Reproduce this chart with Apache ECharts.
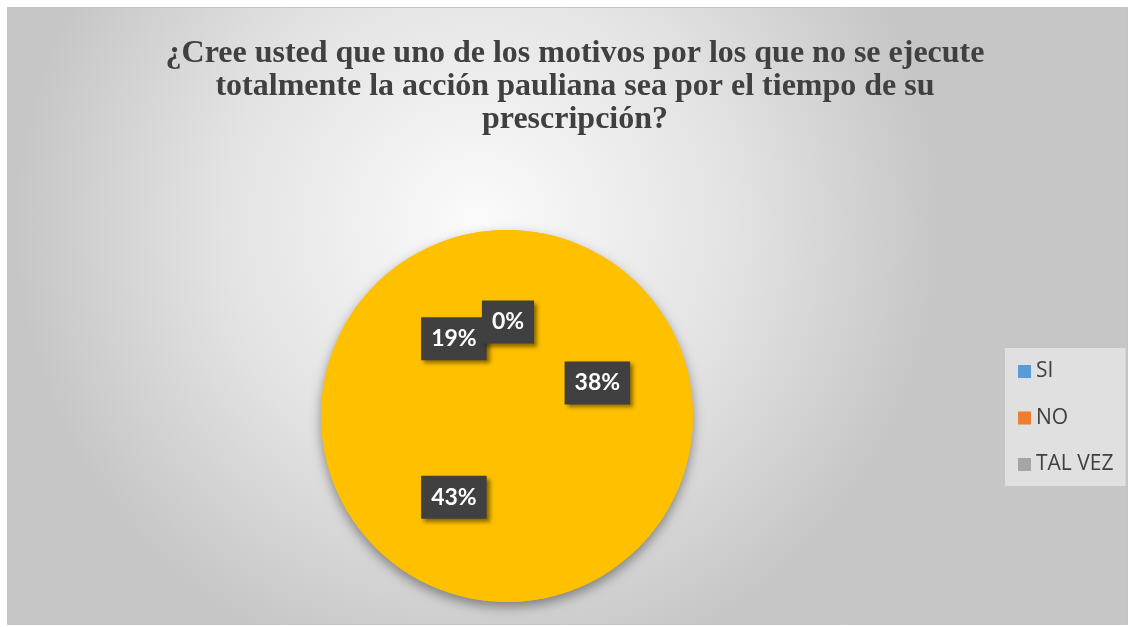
<!DOCTYPE html>
<html><head><meta charset="utf-8">
<script src="https://cdn.jsdelivr.net/npm/echarts@6/dist/echarts.min.js"></script>
<style>html,body{margin:0;padding:0;background:#fff}#c{width:1134px;height:627px}</style>
</head><body><div id="c"></div>
<script>
const titleLines = ['¿Cree usted que uno de los motivos por los que no se ejecute', 'totalmente la acción pauliana sea por el tiempo de su', 'prescripción?'];
const categories = ['SI', 'NO', 'TAL VEZ', ''];
const counts = [8, 9, 4, 0];
const legendColors = ['#5B9BD5', '#ED7D31', '#A5A5A5'];
const sliceColor = '#FFC000';

const chart = echarts.init(document.getElementById('c'), null, {renderer: 'canvas'});
chart.setOption({
  animation: false,
  graphic: [
    {type: 'rect', z: -10, shape: {x: 7.5, y: 7.5, width: 1120, height: 617},
     style: {fill: {type: 'radial', x: 0.42, y: 0.35, r: 0.75, colorStops: [
       {offset: 0, color: '#fbfbfb'}, {offset: 0.55, color: '#e3e3e3'}, {offset: 1, color: '#c6c6c6'}]},
       stroke: '#c4c4c4', lineWidth: 1}},
    {type: 'text', z: 5, style: {text: titleLines.join('\n'), x: 575, y: 37,
      font: 'bold 32px "Liberation Serif"', fill: '#404040', align: 'center', lineHeight: 33}}
  ],
  legend: {
    orient: 'vertical', left: 1005, top: 348,
    padding: [13, 12, 11, 13], itemGap: 25.5,
    itemWidth: 13, itemHeight: 13, icon: 'rect',
    backgroundColor: '#e0e0e0',
    textStyle: {fontFamily: 'Open Sans', fontSize: 21, color: '#404040', lineHeight: 20},
    data: categories.slice(0, 3).map((n, i) => ({name: n, itemStyle: {color: legendColors[i]}}))
  },
  series: [{
    type: 'pie', center: [507, 416], radius: 186, silent: true, z: 1,
    itemStyle: {color: sliceColor, shadowColor: 'rgba(0,0,0,0.4)', shadowBlur: 12, shadowOffsetY: 5},
    label: {show: false}, labelLine: {show: false},
    data: [{name: 'base', value: 1}]
  }, {
    type: 'pie', center: [507, 416], radius: 186, startAngle: 90, clockwise: true, z: 2,
    percentPrecision: 0, avoidLabelOverlap: false, minShowLabelAngle: -1,
    labelLayout: {hideOverlap: false},
    itemStyle: {color: sliceColor, borderWidth: 0},
    emphasis: {disabled: true},
    label: {position: 'inside', formatter: '{d}%', color: '#fff', fontFamily: 'Lato', fontWeight: 'bold', fontSize: 23,
      backgroundColor: '#404040', padding: [10, 10, 10, 10], offset: [1, 2],
      shadowColor: 'rgba(0,0,0,0.45)', shadowBlur: 4, shadowOffsetX: 3, shadowOffsetY: 3},
    labelLine: {show: false},
    data: categories.map((n, i) => ({name: n, value: counts[i]}))
  }]
});
</script></body></html>
